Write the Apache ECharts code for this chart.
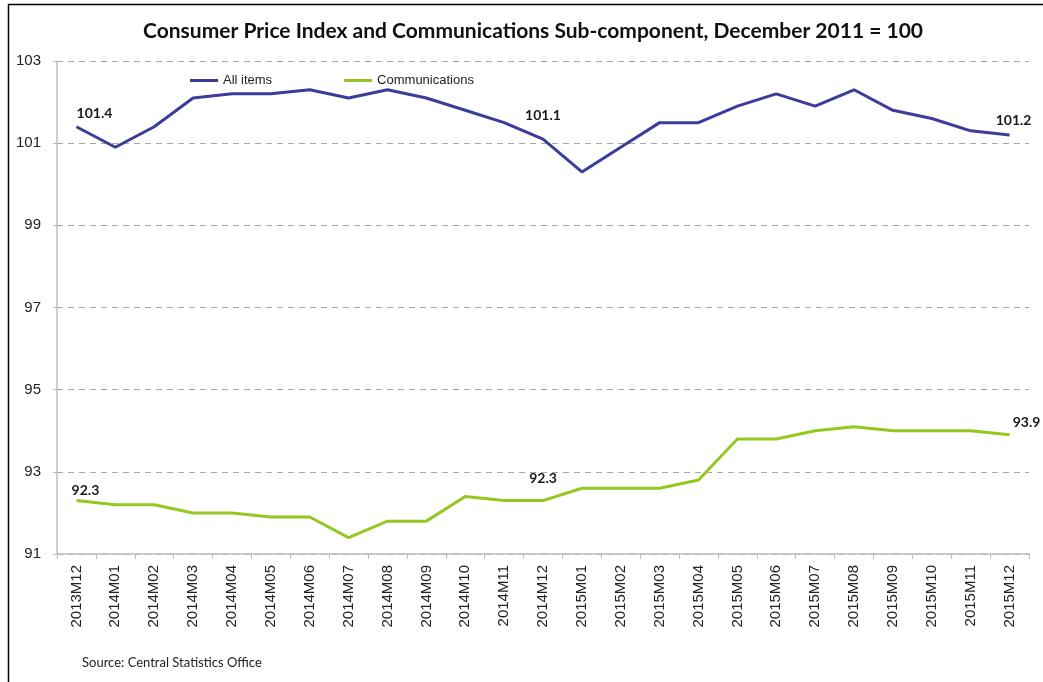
<!DOCTYPE html>
<html><head><meta charset="utf-8">
<script src="https://cdn.jsdelivr.net/npm/echarts@6/dist/echarts.min.js"></script>
<style>html,body{margin:0;padding:0;background:#fff}#c{width:1043px;height:682px}</style>
</head><body><div id="c"></div>
<script>
var categories = ['2013M12','2014M01','2014M02','2014M03','2014M04','2014M05','2014M06','2014M07','2014M08','2014M09','2014M10','2014M11','2014M12','2015M01','2015M02','2015M03','2015M04','2015M05','2015M06','2015M07','2015M08','2015M09','2015M10','2015M11','2015M12'];
var allItems = [101.4,100.9,101.4,102.1,102.2,102.2,102.3,102.1,102.3,102.1,101.8,101.5,101.1,100.3,100.9,101.5,101.5,101.9,102.2,101.9,102.3,101.8,101.6,101.3,101.2];
var communications = [92.3,92.2,92.2,92.0,92.0,91.9,91.9,91.4,91.8,91.8,92.4,92.3,92.3,92.6,92.6,92.6,92.8,93.8,93.8,94.0,94.1,94.0,94.0,94.0,93.9];
var yTicks = [91,93,95,97,99,101,103];
var labelIdx = [0,12,24];

var chart = echarts.init(document.getElementById('c'));
var labelFont = {fontFamily:'Lato', fontWeight:'bold', fontSize:14, color:'#1a1a1a'};
function mk(arr, offsets){
  return arr.map(function(v,i){
    var k = labelIdx.indexOf(i);
    if (k<0) return {value:v, label:{show:false}};
    return {value:v, label:Object.assign({show:true, position:'top', distance:4, offset:offsets[k]}, labelFont)};
  });
}
chart.setOption({
  animation:false,
  title:{text:'Consumer Price Index and Communications Sub-component, December 2011 = 100', left:138, top:16,
    textStyle:{fontFamily:'Lato', fontWeight:'bold', fontSize:21, color:'#111'}},
  legend:{left:185, top:69, itemWidth:28, itemHeight:3, itemGap:72, icon:'rect',
    textStyle:{fontFamily:'Liberation Sans', fontSize:13, color:'#222'},
    data:['All items','Communications']},
  grid:{left:57, right:14, top:61, bottom:128},
  xAxis:{type:'category', data:categories, boundaryGap:true,
    axisLine:{lineStyle:{color:'#bcbcbc', width:1.5}},
    axisTick:{show:true, length:5, lineStyle:{color:'#bcbcbc'}},
    axisLabel:{rotate:90, fontFamily:'Liberation Sans', fontSize:15, color:'#222', margin:11, interval:0}},
  yAxis:{type:'value', min:91, max:103, interval:2,
    axisLine:{show:true, lineStyle:{color:'#bcbcbc', width:1.5}},
    axisTick:{show:true, length:4, inside:false, lineStyle:{color:'#bcbcbc'}},
    axisLabel:{fontFamily:'Liberation Sans', fontSize:15, color:'#222', margin:16},
    splitLine:{lineStyle:{type:[6,5], color:'#a6a6a6', width:1.2}}},
  series:[
    {name:'All items', type:'line', data:mk(allItems, [[18,-2],[0,-13],[4,-3]]), symbol:'circle', symbolSize:0, showSymbol:true,
      lineStyle:{color:'#3c3c9a', width:3}, itemStyle:{color:'#3c3c9a'}},
    {name:'Communications', type:'line', data:mk(communications, [[9,1],[0,-11],[17,-1]]), symbol:'circle', symbolSize:0, showSymbol:true,
      lineStyle:{color:'#94c820', width:3}, itemStyle:{color:'#94c820'}}
  ],
  graphic:[
    {type:'rect', shape:{x:8.5, y:4.5, width:1040, height:690}, style:{fill:'none', stroke:'#000', lineWidth:1.5}},
    {type:'text', left:82, top:656, style:{text:'Source: Central Statistics Office', fontFamily:'Lato', fontSize:13, fill:'#222'}}
  ]
});
</script></body></html>
